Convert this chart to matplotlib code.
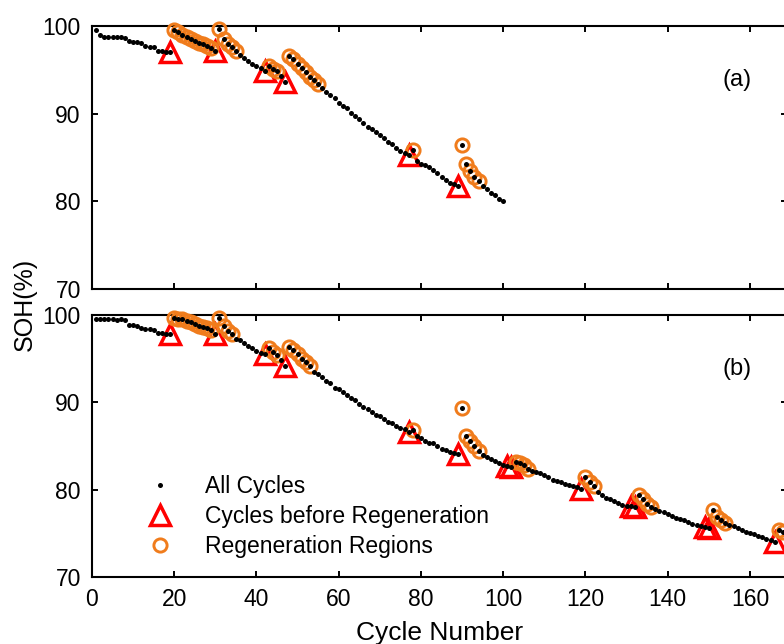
import matplotlib
matplotlib.use("Agg")
import matplotlib.pyplot as plt
import numpy as np
from matplotlib.lines import Line2D

plt.rcParams["font.family"] = ["Liberation Sans", "DejaVu Sans"]

# SOH (%) per cycle, battery (a): cycles 1-100
SOH_A = [
    99.6, 99.0, 98.8, 98.8, 98.8, 98.7, 98.7, 98.6, 98.3, 98.2,
    98.2, 98.1, 97.7, 97.6, 97.6, 97.1, 97.1, 97.0, 97.0, 99.6,
    99.3, 99.0, 98.7, 98.5, 98.3, 98.1, 97.9, 97.7, 97.5, 97.1,
    99.7, 98.5, 98.0, 97.6, 97.2, 96.7, 96.4, 96.0, 95.7, 95.4,
    95.2, 94.9, 95.4, 95.1, 94.9, 94.3, 93.6, 96.6, 96.2, 95.7,
    95.2, 94.7, 94.2, 93.8, 93.4, 92.9, 92.5, 92.1, 91.8, 91.2,
    90.9, 90.6, 90.1, 89.7, 89.4, 88.9, 88.5, 88.2, 87.9, 87.6,
    87.2, 86.8, 86.5, 86.1, 85.8, 85.5, 85.3, 85.9, 84.6, 84.3,
    84.1, 83.9, 83.6, 83.2, 82.8, 82.4, 82.1, 82.0, 81.7, 86.4,
    84.3, 83.5, 82.8, 82.3, 81.8, 81.4, 81.0, 80.7, 80.3, 80.0,
]
DROP_A = [19, 30, 42, 47, 77, 89]
REGEN_A = (list(range(20, 30)) + list(range(31, 36)) + [43, 44, 45]
           + list(range(48, 56)) + [78] + list(range(90, 95)))

# SOH (%) per cycle, battery (b): cycles 1-168
SOH_B = [
    99.6, 99.5, 99.5, 99.5, 99.5, 99.4, 99.5, 99.4, 98.9, 98.9,
    98.8, 98.5, 98.4, 98.4, 98.3, 97.9, 97.9, 97.8, 97.8, 99.7,
    99.6, 99.5, 99.3, 99.2, 99.0, 98.8, 98.6, 98.5, 98.3, 97.8,
    99.7, 98.7, 98.2, 97.8, 97.3, 97.1, 96.8, 96.5, 96.2, 95.9,
    95.7, 95.5, 96.2, 95.8, 95.4, 94.9, 94.2, 96.3, 96.0, 95.5,
    95.0, 94.6, 94.2, 93.5, 93.2, 92.9, 92.5, 92.2, 91.7, 91.5,
    91.2, 90.9, 90.5, 90.3, 89.8, 89.5, 89.2, 88.9, 88.6, 88.4,
    88.1, 87.8, 87.6, 87.3, 87.1, 86.9, 86.6, 86.8, 86.2, 85.9,
    85.6, 85.4, 85.4, 85.0, 84.7, 84.5, 84.3, 84.2, 84.1, 89.3,
    86.1, 85.6, 85.0, 84.4, 84.0, 83.7, 83.5, 83.3, 83.0, 82.8,
    82.7, 82.6, 83.2, 83.1, 82.8, 82.4, 82.1, 82.0, 81.9, 81.7,
    81.4, 81.1, 81.0, 80.9, 80.7, 80.5, 80.4, 80.3, 80.1, 81.5,
    80.9, 80.4, 79.7, 79.4, 79.1, 78.9, 78.7, 78.5, 78.3, 78.1,
    78.1, 78.0, 79.4, 78.9, 78.4, 78.0, 77.8, 77.6, 77.4, 77.2,
    77.0, 76.8, 76.6, 76.5, 76.3, 76.1, 76.0, 75.9, 75.7, 75.6,
    77.7, 76.9, 76.5, 76.2, 76.0, 75.8, 75.6, 75.4, 75.2, 75.0,
    74.9, 74.7, 74.6, 74.4, 74.2, 74.0, 75.4, 75.1,
]
DROP_B = [19, 30, 42, 47, 77, 89, 101, 102, 119, 131, 132, 149, 150, 166]
REGEN_B = (list(range(20, 30)) + list(range(31, 35)) + [43, 44, 45]
           + list(range(48, 54)) + [78] + list(range(90, 95))
           + list(range(103, 107)) + [120, 121, 122]
           + list(range(133, 137)) + list(range(151, 155)) + [167, 168])

PANEL_TAGS = ["(a)", "(b)"]
Y_TICKS = [70, 80, 90, 100]
X_TICKS = list(range(0, 161, 20))

RED = "#ff0000"
ORANGE = "#f07c1c"
FS = 16.5

DOT = dict(ls="none", marker="o", ms=3.6, mfc="black", mec="none")
TRI = dict(ls="none", marker="^", ms=14, mfc="none", mec=RED, mew=2.5)
CIRC = dict(ls="none", marker="o", ms=9.5, mfc="none", mec=ORANGE, mew=2.1)


def draw_panel(ax, soh, drops, regen, tag):
    soh = np.asarray(soh)
    cycles = np.arange(1, len(soh) + 1)
    drops = np.asarray(drops)
    regen = np.asarray(regen)

    # markers near the 100% line are allowed to spill over the top spine
    ax.plot(drops, soh[drops - 1], zorder=3, clip_on=False, **TRI)
    ax.plot(regen, soh[regen - 1], zorder=4, clip_on=False, **CIRC)
    ax.plot(cycles, soh, zorder=5, clip_on=False, **DOT)

    ax.set_xlim(0, 169)
    ax.set_ylim(70, 100)
    ax.set_xticks(X_TICKS)
    ax.set_yticks(Y_TICKS)
    ax.tick_params(direction="in", top=True, right=True, length=4,
                   width=1.4, labelsize=FS, pad=8)
    for sp in ax.spines.values():
        sp.set_linewidth(1.5)
    ax.text(0.928, 0.795, tag, transform=ax.transAxes, fontsize=FS + 0.5,
            ha="center", va="center")


fig = plt.figure(figsize=(7.84, 6.44), dpi=100)
ax_a = fig.add_axes([0.1173, 0.5512, 0.8865, 0.4084])
ax_b = fig.add_axes([0.1173, 0.1040, 0.8865, 0.4068])

draw_panel(ax_a, SOH_A, DROP_A, REGEN_A, PANEL_TAGS[0])
draw_panel(ax_b, SOH_B, DROP_B, REGEN_B, PANEL_TAGS[1])
ax_a.tick_params(labelbottom=False)

ax_b.set_xlabel("Cycle Number", fontsize=19, labelpad=7)
fig.text(0.032, 0.528, "SOH(%)", rotation=90, fontsize=18,
         ha="center", va="center")

handles = [Line2D([], [], **DOT), Line2D([], [], **TRI), Line2D([], [], **CIRC)]
labels = ["All Cycles", "Cycles before Regeneration", "Regeneration Regions"]
ax_b.legend(handles, labels, loc="lower left", bbox_to_anchor=(0.0715, 0.072),
            frameon=False, fontsize=FS, handlelength=1.6, handletextpad=1.16,
            labelspacing=0.3, borderpad=0, borderaxespad=0)

fig.savefig("out.png", dpi=100)
